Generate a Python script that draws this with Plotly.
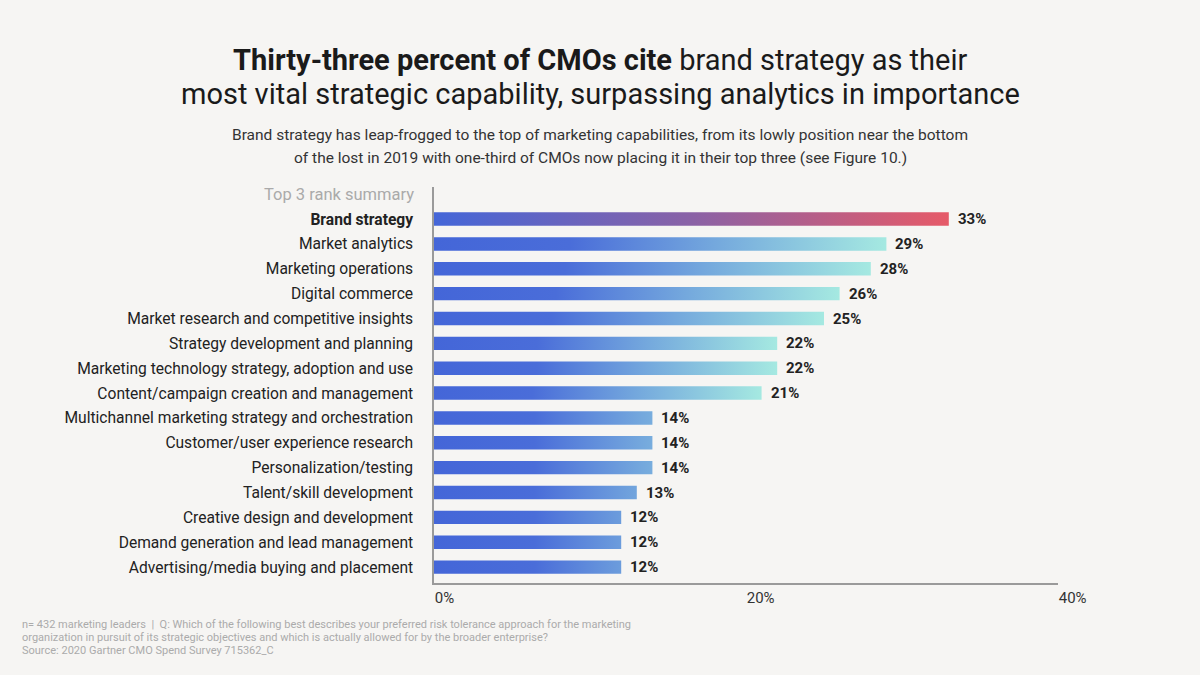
import plotly.graph_objects as go

categories = [
    "Brand strategy",
    "Market analytics",
    "Marketing operations",
    "Digital commerce",
    "Market research and competitive insights",
    "Strategy development and planning",
    "Marketing technology strategy, adoption and use",
    "Content/campaign creation and management",
    "Multichannel marketing strategy and orchestration",
    "Customer/user experience research",
    "Personalization/testing",
    "Talent/skill development",
    "Creative design and development",
    "Demand generation and lead management",
    "Advertising/media buying and placement",
]
values = [33, 29, 28, 26, 25, 22, 22, 21, 14, 14, 14, 13, 12, 12, 12]
tick_vals = [0, 20, 40]
tick_text = ["0%", "20%", "40%"]
highlight = "Brand strategy"

BG = "#f6f5f3"
FONT = "Roboto"
blue_scale = [[0, "#4466d8"], [0.3, "#4a6dd9"], [0.62, "#74a8dd"], [1, "#a5e9e1"]]
red_scale = [[0, "#4466d8"], [0.5, "#8a62a6"], [1, "#e65a68"]]
h = 0.27

fig = go.Figure()
for i, (cat, v) in enumerate(zip(categories, values)):
    if cat == highlight:
        scale, stop = red_scale, v
    elif v >= 20:
        scale, stop = blue_scale, v
    else:
        scale, stop = blue_scale, 21.5
    fig.add_trace(go.Scatter(
        x=[0, v, v, 0, 0], y=[i - h, i - h, i + h, i + h, i - h],
        mode="lines", fill="toself", line=dict(width=0),
        fillgradient=dict(type="horizontal", colorscale=scale, start=0, stop=stop),
        hoverinfo="skip", showlegend=False,
    ))
    fig.add_annotation(x=v, y=i, xref="x", yref="y", text=f"<b>{v}%</b>",
                       showarrow=False, xanchor="left", xshift=7,
                       font=dict(family=FONT, size=15, color="#222"))

ticktext = [f"<b>{c}</b>" if c == highlight else c for c in categories]

fig.add_annotation(x=0, y=-1, xref="paper", yref="y", text="Top 3 rank summary",
                   showarrow=False, xanchor="right", xshift=-18,
                   font=dict(family=FONT, size=16.5, color="#aaaaaa"))

fig.update_layout(
    width=1200, height=675,
    paper_bgcolor=BG, plot_bgcolor=BG,
    margin=dict(l=434, r=142, t=187, b=92),
    xaxis=dict(range=[0, 40], showgrid=False, zeroline=False, showline=True,
               linecolor="#9a9a9a", linewidth=1.5, tickvals=tick_vals, ticktext=tick_text,
               ticks="", ticklabelposition="outside right",
               tickfont=dict(family=FONT, size=15, color="#333"), fixedrange=True),
    yaxis=dict(range=[14.64, -1.29], showgrid=False, zeroline=False, showline=True,
               linecolor="#9a9a9a", linewidth=1.5, tickvals=list(range(len(categories))),
               ticktext=ticktext, ticks="", ticklabelstandoff=16,
               tickfont=dict(family=FONT, size=15.6, color="#222"), fixedrange=True),
)

def figpx_to_paper(xpx, ypx):
    pl, pr, pt, pb = 434, 1200 - 142, 187, 675 - 92
    return (xpx - pl) / (pr - pl), (pb - ypx) / (pb - pt)

def text_at(text, xpx, ypx, size, color, xanchor="center"):
    px, py = figpx_to_paper(xpx, ypx)
    fig.add_annotation(x=px, y=py, xref="paper", yref="paper", text=text,
                       showarrow=False, xanchor=xanchor, yanchor="middle",
                       font=dict(family=FONT, size=size, color=color))

text_at("<b>Thirty-three percent of CMOs cite</b> brand strategy as their", 600, 60, 29, "#1a1a1a")
text_at("most vital strategic capability, surpassing analytics in importance", 600, 94, 29, "#1a1a1a")
text_at("Brand strategy has leap-frogged to the top of marketing capabilities, from its lowly position near the bottom",
        600, 135, 15.5, "#333")
text_at("of the lost in 2019 with one-third of CMOs now placing it in their top three (see Figure 10.)",
        600, 158, 15.5, "#333")
text_at("n= 432 marketing leaders  |  Q: Which of the following best describes your preferred risk tolerance approach for the marketing",
        20, 624, 11, "#ababab", "left")
text_at("organization in pursuit of its strategic objectives and which is actually allowed for by the broader enterprise?",
        20, 637, 11, "#ababab", "left")
text_at("Source: 2020 Gartner CMO Spend Survey 715362_C", 20, 650, 11, "#ababab", "left")

fig.write_html("out.html")
